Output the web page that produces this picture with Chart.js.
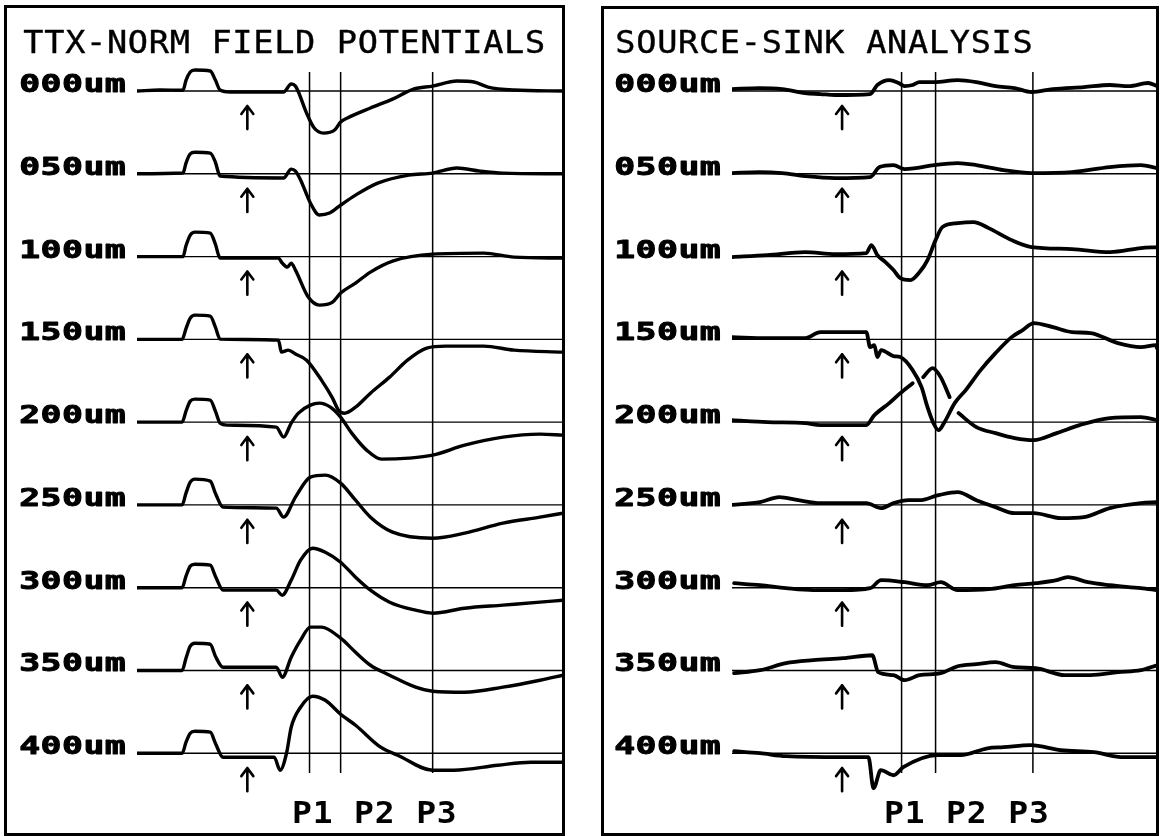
<!DOCTYPE html>
<html>
<head>
<meta charset="utf-8">
<script src="https://cdn.jsdelivr.net/npm/chart.js@4.4.0/dist/chart.umd.min.js"></script>
<style>
    body { margin: 0; background: #fff; }
    #page { position: relative; width: 1162px; height: 836px; overflow: hidden; background: #fff; }
    canvas { position: absolute; top: 0; }
    #fieldCanvas { left: 0; }
    #sinkCanvas { left: 581px; }
    .frame { position: absolute; border: 3px solid #000; box-sizing: border-box; pointer-events: none; }
</style>
</head>
<body>
<div id="page">
    <canvas id="fieldCanvas" width="581" height="836" style="width:581px;height:836px"></canvas>
    <canvas id="sinkCanvas" width="581" height="836" style="width:581px;height:836px"></canvas>
    <div class="frame" style="left:4px;top:5px;width:561px;height:831px"></div>
    <div class="frame" style="left:601px;top:6px;width:558px;height:830px"></div>
</div>
<script>
// Recording depths and marker names
const depthLabels = ['000um', '050um', '100um', '150um', '200um', '250um', '300um', '350um', '400um'];
const markerLabels = ['P1', 'P2', 'P3'];

// Sweep time (0-100) of the P1/P2/P3 markers and of the stimulus arrow
const fieldMarkers = [40.5, 47.8, 69.4];
const sinkMarkers = [39.9, 47.9, 70.8];
const fieldArrowTime = 25.9;
const sinkArrowTime = 25.9;

// Field potentials, [time, amplitude] (amplitude in trace units, 10 = one trace spacing)
const fp000 = [[0,0],[5.4,0.12],[10.8,0.1],[11.5,1.3],[12.5,2.3],[13.6,2.54],[17.2,2.42],[18.4,1.33],[19.5,0.12],[21.9,-0.12],[34.4,-0.12],[36.2,0.85],[37.2,0.6],[37.9,-0.12],[39.8,-2.66],[41.6,-4.47],[43.8,-5.08],[46.4,-4.71],[47.8,-3.75],[49.4,-3.26],[54.8,-2.05],[60.0,-0.97],[64.9,0.24],[69.4,0.6],[75.1,1.21],[79.1,1.09],[82.4,0.48],[88.5,0.12],[100,0]];
const fp050 = [[0,0],[10.8,0.1],[11.5,1.3],[12.5,2.4],[13.6,2.6],[17.2,2.5],[18.4,1.4],[19.5,-0.27],[34.4,-0.5],[36.2,0.57],[37.2,0.33],[38.4,-0.75],[40.7,-3.53],[42.8,-4.98],[45.2,-4.74],[47.8,-3.78],[51.3,-2.57],[56.5,-1.12],[63.8,-0.15],[69.4,0.09],[75.1,0.7],[80.5,0.33],[85.9,0.09],[100,0]];
const fp100 = [[0,0],[10.8,0],[11.5,1.3],[12.5,2.6],[13.6,2.96],[17.2,2.84],[18.4,1.5],[19.5,-0.18],[33.2,-0.18],[34.1,-0.79],[35.3,-1.27],[36.2,-0.79],[37.2,-1.63],[40.2,-4.89],[42.8,-5.86],[45.9,-5.5],[47.8,-4.41],[51.3,-3.2],[54.8,-1.87],[60.0,-0.54],[69.4,0.3],[81.4,0.42],[88.5,-0.06],[100,-0.18]];
const fp150 = [[0,0],[10.6,0],[11.5,1.3],[12.5,2.57],[13.6,2.93],[17.2,2.81],[18.4,1.48],[19.5,0.03],[33.2,-0.09],[33.9,-1.54],[35.5,-1.3],[37.2,-1.78],[39.8,-2.51],[43.3,-4.92],[45.9,-7.1],[47.3,-8.56],[48.7,-8.92],[51.3,-8.19],[54.8,-6.5],[59.3,-4.56],[63.5,-2.51],[68.0,-1.06],[72.5,-0.82],[81.4,-0.82],[88.5,-1.3],[100,-1.54]];
const fp200 = [[0,0],[10.6,0],[11.5,1.33],[12.5,2.54],[13.6,2.78],[17.2,2.66],[18.4,1.33],[19.5,-0.12],[21.2,-0.36],[32.7,-0.6],[34.4,-1.81],[36.2,-0.12],[37.9,1.09],[40.7,2.05],[42.8,2.3],[45.4,1.81],[47.8,0.6],[50.4,-1.33],[53.9,-3.38],[57.4,-4.47],[63.8,-4.35],[69.4,-3.99],[76.9,-2.78],[85.9,-1.81],[94.6,-1.45],[100,-1.57]];
const fp250 = [[0,0],[10.6,0],[11.5,1.42],[12.5,2.75],[13.6,3.11],[17.2,2.87],[18.4,1.42],[20.2,-0.27],[32.7,-0.39],[34.4,-1.48],[37.2,0.94],[40.7,3.35],[44.2,3.6],[47.8,2.63],[51.3,0.57],[54.8,-1.48],[60.0,-3.29],[69.4,-4.02],[76.9,-3.41],[85.9,-2.2],[94.6,-1.48],[100,-1.0]];
const fp300 = [[0,0],[10.6,0],[11.5,1.39],[12.5,2.6],[13.6,2.84],[17.2,2.72],[18.4,1.39],[20.2,-0.3],[32.7,-0.3],[34.1,-0.91],[36.2,0.91],[38.4,3.32],[41.2,4.77],[44.2,4.29],[47.8,3.08],[51.3,1.27],[54.8,-0.3],[59.3,-1.75],[65.4,-2.72],[69.4,-3.08],[76.9,-2.48],[85.9,-2.11],[94.6,-1.75],[100,-1.51]];
const fp350 = [[0,0],[10.6,0],[11.5,1.48],[12.5,2.93],[13.6,3.29],[17.2,3.17],[18.4,1.72],[20.2,0.39],[32.7,0.39],[34.1,-0.82],[36.2,1.6],[38.4,3.66],[40.7,5.23],[43.3,5.23],[47.8,3.9],[51.3,2.2],[54.8,0.63],[59.3,-0.57],[65.4,-2.02],[69.4,-2.51],[76.9,-2.63],[85.9,-2.02],[94.6,-1.18],[100,-0.57]];
const fp400 = [[0,0],[10.6,0],[11.5,1.33],[12.5,2.42],[13.6,2.66],[17.2,2.54],[18.4,1.21],[20.2,-0.48],[32.2,-0.48],[33.6,-2.05],[35.1,0],[36.2,3.14],[38.4,5.56],[41.2,6.89],[44.2,6.4],[47.8,4.71],[51.3,3.38],[57.2,0.73],[61.2,-0.24],[69.4,-2.05],[74.4,-2.05],[84.7,-1.45],[92.5,-1.09],[100,-1.09]];

// Source-sink analysis, [time, amplitude] (null = pen lifted)
const cs000 = [[0,0.24],[6.4,0.36],[11.8,0.24],[17.2,-0.24],[20.8,-0.36],[24.3,-0.48],[32.5,-0.36],[34.2,0.73],[37.0,1.33],[39.2,0.97],[40.6,0.6],[42.5,0.73],[44.1,1.09],[47.6,1.09],[53.1,1.33],[57.5,1.09],[62.0,0.6],[66.5,0.36],[70.5,-0.12],[75.5,0.24],[82.8,0.48],[88.9,0.73],[93.4,0.6],[97.9,0.97],[100,0.6]];
const cs050 = [[0,0.09],[6.4,0.21],[11.8,0.09],[17.2,-0.27],[24.3,-0.51],[32.5,-0.39],[34.7,0.82],[38.0,1.06],[40.6,0.57],[43.2,0.7],[47.6,1.06],[53.1,1.3],[57.5,1.06],[63.9,0.45],[70.5,0.09],[80.0,0.21],[88.9,0.82],[96.2,1.06],[100,0.7]];
const cs100 = [[0,-0.06],[8.3,0.18],[17.2,0.54],[24.3,0.3],[31.6,0.42],[32.8,1.39],[34.2,0.18],[36.1,-0.66],[38.0,-1.63],[39.6,-2.6],[42.0,-2.84],[44.1,-1.9],[46.0,-0.42],[47.9,1.99],[49.5,3.56],[53.1,4.05],[56.8,4.17],[60.4,3.44],[65.8,1.99],[70.5,1.15],[80.0,0.91],[88.9,0.54],[96.2,1.03],[100,1.15]];
const cs150 = [[0,0.27],[8.3,0.15],[17.2,0.15],[20.8,0.88],[31.6,0.88],[32.5,-0.94],[33.5,-0.7],[34.2,-2.14],[35.1,-1.3],[38.0,-2.02],[39.6,-2.14],[42.5,-3.71],[44.6,-5.77],[46.0,-8.19],[47.4,-10.12],[48.6,-10.97],[50.0,-10.0],[52.4,-7.7],[55.0,-6.13],[58.5,-3.71],[62.0,-1.66],[65.8,0.27],[68.4,1.12],[71.0,1.96],[75.5,1.48],[80.0,0.88],[84.4,0.76],[90.8,-0.45],[96.2,-0.94],[99.8,-0.7],[100,-1.06]];
const cs200 = [[0,0.24],[8.3,0],[17.2,-0.12],[20.8,-0.36],[31.6,-0.36],[33.5,0.85],[37.0,2.3],[39.6,3.5],[42.5,4.71],[43.7,null],[45.0,5.44],[47.2,6.53],[49.1,5.44],[51.2,3.02],[52.2,null],[53.3,1.09],[57.5,-0.6],[62.0,-1.33],[66.5,-1.93],[71.0,-2.18],[76.4,-1.33],[81.8,-0.36],[88.9,0.48],[96.2,0.6],[100,0.24]];
const cs250 = [[0,0],[6.6,0.33],[11.1,0.94],[15.6,0.57],[20.8,0.21],[31.6,0.21],[35.1,-0.39],[38.0,0.21],[41.5,0.57],[44.1,0.57],[48.6,1.18],[53.1,1.54],[57.5,0.57],[62.0,-0.27],[66.5,-1.0],[71.0,-1.0],[77.4,-1.6],[82.8,-1.48],[88.9,-0.39],[96.2,0.21],[100,0.33]];
const cs300 = [[0.5,0.54],[6.6,0.3],[12.7,-0.06],[19.1,-0.3],[26.2,-0.3],[32.5,-0.06],[35.1,0.91],[40.6,0.66],[46.0,0.3],[49.1,0.66],[53.1,-0.3],[60.4,-0.18],[66.5,0.3],[71.5,0.54],[76.4,0.91],[79.0,1.27],[83.7,0.66],[88.9,0.3],[96.2,-0.06],[100,-0.3]];
const cs350 = [[0.5,-0.33],[6.6,0.03],[12.7,0.88],[19.1,1.24],[26.2,1.48],[33.0,1.84],[34.4,-0.21],[38.0,-0.57],[40.6,-1.18],[44.1,-0.57],[49.1,-0.33],[53.1,0.51],[57.5,0.76],[62.0,1.0],[66.5,0.39],[71.5,0.27],[78.3,-0.57],[84.4,-0.57],[90.8,-0.21],[96.2,0.03],[100,0.63]];
const cs400 = [[0.5,0.24],[6.6,0],[12.7,-0.36],[26.2,-0.48],[32.1,-0.48],[33.3,-4.23],[35.0,-2.05],[38.0,-2.66],[40.3,-1.69],[48.3,-0.24],[53.8,-0.24],[60.1,0.6],[63.9,0.73],[70.3,0.97],[77.4,0.36],[85.1,0.12],[92.2,-0.48],[100,-0.48]];

const fieldTraces = [fp000, fp050, fp100, fp150, fp200, fp250, fp300, fp350, fp400];
const sinkTraces = [cs000, cs050, cs100, cs150, cs200, cs250, cs300, cs350, cs400];

// Plot geometry in data units
const rowSpacing = 10;
const yMax = 11;
const yMin = -90;
const markerTop = 2.3;
const markerBottom = -82.4;
const arrowTip = -1.8;
const arrowTail = -4.6;
const markerTextLevel = -88.4;

// Draw text on a fixed character pitch, like the pen plotter did
function drawMono(ctx, text, x, y, pitch, font, sx, heavy) {
    ctx.font = font;
    ctx.textAlign = 'center';
    ctx.textBaseline = 'alphabetic';
    for (let i = 0; i < text.length; i++) {
        ctx.save();
        ctx.translate(x + pitch * (i + 0.5), y);
        ctx.scale(sx, 1);
        ctx.fillText(text[i], 0, 0);
        if (heavy) {
            ctx.lineWidth = heavy;
            ctx.strokeText(text[i], 0, 0);
        }
        ctx.restore();
    }
}

function panelDecor(panel) {
    return {
        id: 'panelDecor',
        afterDatasetsDraw(chart) {
            const ctx = chart.ctx;
            const xs = chart.scales.x;
            const ys = chart.scales.y;
            const area = chart.chartArea;
            ctx.save();
            ctx.fillStyle = '#000';
            ctx.strokeStyle = '#000';
            ctx.lineJoin = 'round';

            drawMono(ctx, panel.title, panel.titleX, 53, 20.9, '32px "DejaVu Sans Mono"', 1.05, 0.4);

            depthLabels.forEach((label, k) => {
                const base = ys.getPixelForValue(-rowSpacing * k);
                drawMono(ctx, label, area.left - 118, base + 1, 21.4, 'bold 24px "DejaVu Sans Mono"', 1.45, 0.9);
            });

            // stimulus arrows
            const ax = xs.getPixelForValue(panel.arrowTime);
            ctx.lineWidth = 2.6;
            ctx.lineCap = 'round';
            depthLabels.forEach((label, k) => {
                const tip = ys.getPixelForValue(-rowSpacing * k + arrowTip);
                const tail = ys.getPixelForValue(-rowSpacing * k + arrowTail);
                ctx.beginPath();
                ctx.moveTo(ax, tail);
                ctx.lineTo(ax, tip);
                ctx.moveTo(ax - 6, tip + 8);
                ctx.lineTo(ax, tip);
                ctx.lineTo(ax + 6, tip + 8);
                ctx.stroke();
            });

            const p1 = xs.getPixelForValue(panel.markers[0]);
            drawMono(ctx, markerLabels.join(' '), p1 - 18, ys.getPixelForValue(markerTextLevel), 20.7,
                'bold 30px "DejaVu Sans Mono"', 1.1, 0);
            ctx.restore();
        }
    };
}

function makePanel(canvasId, panel) {
    const datasets = [];

    // baselines of each depth
    depthLabels.forEach((label, k) => {
        datasets.push({
            data: [{ x: 0, y: -rowSpacing * k }, { x: 100, y: -rowSpacing * k }],
            borderColor: '#000',
            borderWidth: 1.4,
            pointRadius: 0
        });
    });

    // P1 / P2 / P3 marker lines
    panel.markers.forEach(t => {
        datasets.push({
            data: [{ x: t, y: markerTop }, { x: t, y: markerBottom }],
            borderColor: '#000',
            borderWidth: 1.5,
            pointRadius: 0
        });
    });

    // the traces, each offset to its own row
    panel.traces.forEach((trace, k) => {
        datasets.push({
            label: depthLabels[k],
            data: trace.map(([t, a]) => ({ x: t, y: a === null ? null : a - rowSpacing * k })),
            borderColor: '#000',
            borderWidth: panel.traceWidth,
            pointRadius: 0,
            cubicInterpolationMode: 'monotone',
            spanGaps: false,
            borderCapStyle: 'round',
            borderJoinStyle: 'round'
        });
    });

    return new Chart(document.getElementById(canvasId).getContext('2d'), {
        type: 'line',
        data: { datasets: datasets },
        options: {
            responsive: false,
            animation: false,
            events: [],
            layout: { padding: panel.padding },
            plugins: {
                legend: { display: false },
                tooltip: { enabled: false },
                title: { display: false }
            },
            scales: {
                x: { type: 'linear', min: 0, max: 100, display: false },
                y: { type: 'linear', min: yMin, max: yMax, display: false }
            }
        },
        plugins: [panelDecor(panel)]
    });
}

makePanel('fieldCanvas', {
    title: 'TTX-NORM FIELD POTENTIALS',
    titleX: 23,
    traces: fieldTraces,
    markers: fieldMarkers,
    arrowTime: fieldArrowTime,
    traceWidth: 3.4,
    padding: { left: 137, right: 18, top: 0, bottom: 0 }
});

makePanel('sinkCanvas', {
    title: 'SOURCE-SINK ANALYSIS',
    titleX: 34,
    traces: sinkTraces,
    markers: sinkMarkers,
    arrowTime: sinkArrowTime,
    traceWidth: 3.8,
    padding: { left: 151, right: 5, top: 0, bottom: 0 }
});
</script>
</body>
</html>
